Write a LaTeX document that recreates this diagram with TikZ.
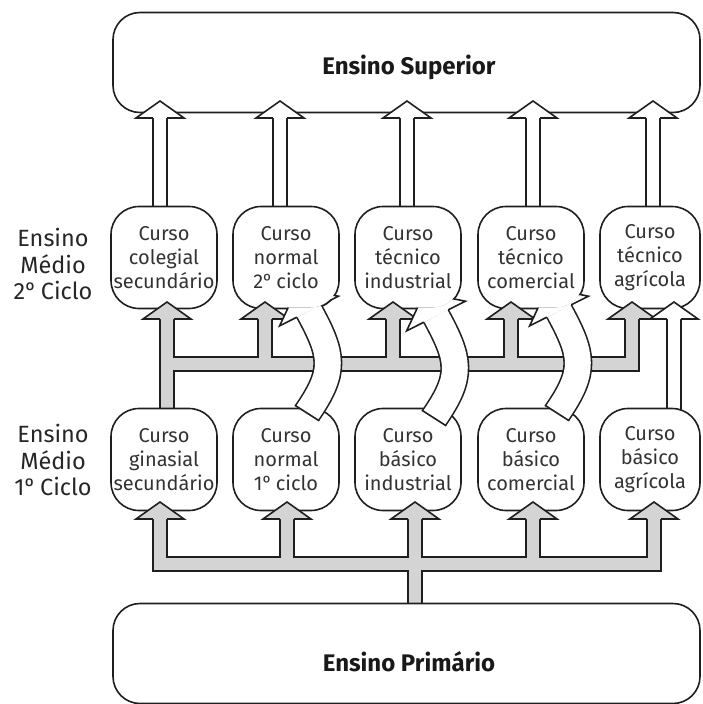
\documentclass[tikz,border=0pt]{standalone}
\usepackage{fontspec}
\setmainfont{Fira Sans}
\newfontfamily\ordfont{PT Sans}
\newcommand{\ord}{{\ordfont º}}
\usetikzlibrary{calc}

\definecolor{cinza}{gray}{0.83}
\definecolor{contorno}{gray}{0.12}

\tikzset{
  caixa/.style={draw=contorno, fill=white, line width=1.6pt, rounded corners=28pt,
    minimum width=106pt, minimum height=102pt, inner sep=0pt, outer sep=0pt,
    align=center, text=black!80, font=\fontsize{20}{23.7}\selectfont},
  grande/.style={draw=contorno, fill=white, line width=1.6pt, rounded corners=27pt,
    minimum width=587pt, minimum height=100pt, inner sep=0pt, outer sep=0pt},
  titulo/.style={text=black!90, font=\fontsize{24}{28}\selectfont\bfseries},
  rotulo/.style={align=center, text=black!85, font=\fontsize{23.5}{26.5}\selectfont},
}

% haste de seta: contorno escuro e miolo colorido
\newcommand{\haste}[2]{%
  \draw[contorno, line width=16pt] #2;
  \draw[#1, line width=12.8pt] #2;}

% ponta de seta para cima (x, y da base, cor)
\newcommand{\ponta}[3]{%
  \filldraw[fill=#3, draw=contorno, line width=1.6pt]
    (#1-7.2,#2) -- (#1-24,#2) -- (#1,#2-17) -- (#1+24,#2) -- (#1+7.2,#2);}

% seta curva branca (caixa de cima, dx, dy)
\newcommand{\curva}[3]{%
  \begin{scope}
    \clip (0,0) -- (702,0) -- (702,704) -- (0,704) -- cycle
      [rounded corners=27pt] ($(#1.north west)+(1,1)$) -- ($(#1.south west)+(1,-1)$)
      -- ($(#1.south east)+(-1,-1)$) -- ($(#1.north east)+(-1,1)$) -- cycle;
    \begin{scope}[shift={(#2,#3)}]
      \draw[contorno, line width=29pt] (307,413) .. controls (336,371) and (333,355) .. (309,311);
      \draw[white, line width=25.8pt] (307,413) .. controls (336,371) and (333,355) .. (309,311);
      \draw[contorno, line width=1.6pt] (294.8,405.2) -- (319.2,420.8);
      \filldraw[fill=white, draw=contorno, line width=1.6pt]
        (296.8,317.2) -- (279.6,325.9) -- (297.3,287.9) -- (338.4,296.2) -- (321.2,304.8);
    \end{scope}
  \end{scope}}

\begin{document}
\begin{tikzpicture}[x=1pt, y=-1pt]
  \useasboundingbox (0,0) rectangle (702,704);

  % Hastes
  \haste{white}{(160,207) -- (160,116) (280,207) -- (280,116) (407,207) -- (407,116)
    (533,207) -- (533,116) (653,207) -- (653,116)}
  \haste{white}{(674,410) -- (674,317)}
  \haste{cinza}{(167,410) -- (167,317) (167,364) -- (632,364) -- (632,317)
    (265,364) -- (265,317) (393,364) -- (393,317) (511,364) -- (511,317)}
  \haste{cinza}{(160,517) -- (160,564) -- (654,564) -- (654,517)
    (287,564) -- (287,517) (415,606) -- (415,517) (533,564) -- (533,517)}

  % Caixas
  \node[grande] (sup) at (406.5,62.5) {};
  \node[titulo] (tsup) at (409,67) {Ensino Superior};
  \node[grande] (prim) at (406.5,653.5) {};
  \node[titulo] (tprim) at (409,662) {Ensino Primário};

  \node[caixa] (u1) at (164,257.5) {Curso\\colegial\\secundário};
  \node[caixa] (u2) at (286,257.5) {Curso\\normal\\2\ord{} ciclo};
  \node[caixa] (u3) at (408,257.5) {Curso\\técnico\\industrial};
  \node[caixa] (u4) at (531,257.5) {Curso\\técnico\\comercial};
  \node[caixa, minimum width=100pt] (u5) at (650,257.5) {Curso\\técnico\\agrícola};

  \node[caixa] (l1) at (164,459.5) {Curso\\ginasial\\secundário};
  \node[caixa] (l2) at (286,459.5) {Curso\\normal\\1\ord{} ciclo};
  \node[caixa] (l3) at (408,459.5) {Curso\\básico\\industrial};
  \node[caixa] (l4) at (531,459.5) {Curso\\básico\\comercial};
  \node[caixa, minimum width=100pt] (l5) at (650,459.5) {Curso\\básico\\agrícola};

  \node[rotulo] (medio2) at (53,264) {Ensino\\Médio\\2\ord{} Ciclo};
  \node[rotulo] (medio1) at (53,460) {Ensino\\Médio\\1\ord{} Ciclo};

  % Pontas
  \ponta{160}{118}{white}
  \ponta{280}{118}{white}
  \ponta{407}{118}{white}
  \ponta{533}{118}{white}
  \ponta{653}{118}{white}

  \ponta{167}{319}{cinza}
  \ponta{265}{319}{cinza}
  \ponta{393}{319}{cinza}
  \ponta{511}{319}{cinza}
  \ponta{632}{319}{cinza}
  \ponta{674}{319}{white}

  \ponta{160}{519}{cinza}
  \ponta{287}{519}{cinza}
  \ponta{415}{519}{cinza}
  \ponta{533}{519}{cinza}
  \ponta{654}{519}{cinza}

  % Setas curvas
  \curva{u2}{0}{0}
  \curva{u3}{127}{5}
  \curva{u4}{250}{0}
\end{tikzpicture}
\end{document}
